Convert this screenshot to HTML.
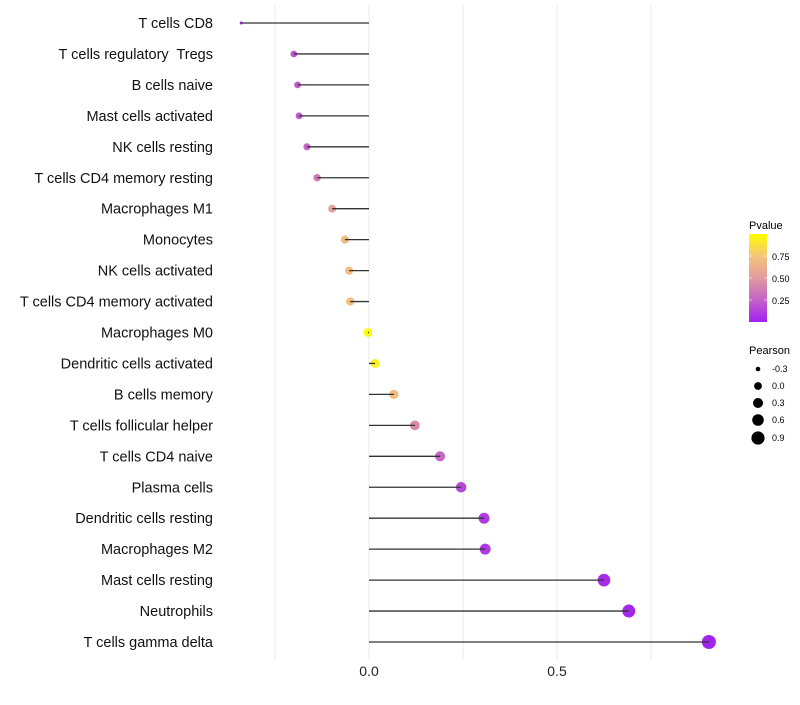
<!DOCTYPE html>
<html><head><meta charset="utf-8"><style>
body{margin:0;background:#fff;}
svg{font-family:"Liberation Sans",Arial,sans-serif;}
text{white-space:pre;}
</style></head><body>
<svg width="800" height="700" xmlns="http://www.w3.org/2000/svg">
<defs><linearGradient id="pg" x1="0" y1="1" x2="0" y2="0">
<stop offset="0" stop-color="#a020f0"/><stop offset="0.25" stop-color="#c462c8"/><stop offset="0.5" stop-color="#e29a9e"/><stop offset="0.75" stop-color="#f4c47a"/><stop offset="1" stop-color="#ffff00"/></linearGradient></defs>
<g id="grid"></g><g id="marks"></g><g id="labels"></g>
<g>
<text x="749" y="229" font-size="11">Pvalue</text>
<rect x="749" y="234" width="18" height="88" fill="url(#pg)"/>
<line x1="749" x2="752" y1="256" y2="256" stroke="#fff" opacity="0.6"/><line x1="764" x2="767" y1="256" y2="256" stroke="#fff" opacity="0.6"/>
<line x1="749" x2="752" y1="278" y2="278" stroke="#fff" opacity="0.6"/><line x1="764" x2="767" y1="278" y2="278" stroke="#fff" opacity="0.6"/>
<line x1="749" x2="752" y1="300" y2="300" stroke="#fff" opacity="0.6"/><line x1="764" x2="767" y1="300" y2="300" stroke="#fff" opacity="0.6"/>
<text x="772" y="260" font-size="9">0.75</text><text x="772" y="282" font-size="9">0.50</text><text x="772" y="304" font-size="9">0.25</text>
</g>
<g>
<text x="749" y="354" font-size="11">Pearson</text>
<circle cx="758" cy="369" r="2.3"/><text x="772" y="372" font-size="9">-0.3</text>
<circle cx="758" cy="386" r="3.9"/><text x="772" y="389" font-size="9">0.0</text>
<circle cx="758" cy="403" r="5"/><text x="772" y="406" font-size="9">0.3</text>
<circle cx="758" cy="420" r="5.8"/><text x="772" y="423" font-size="9">0.6</text>
<circle cx="758" cy="438" r="6.6"/><text x="772" y="441" font-size="9">0.9</text>
</g>
</svg>
<script>
const categories=["T cells CD8","T cells regulatory  Tregs","B cells naive","Mast cells activated","NK cells resting","T cells CD4 memory resting","Macrophages M1","Monocytes","NK cells activated","T cells CD4 memory activated","Macrophages M0","Dendritic cells activated","B cells memory","T cells follicular helper","T cells CD4 naive","Plasma cells","Dendritic cells resting","Macrophages M2","Mast cells resting","Neutrophils","T cells gamma delta"];
const pearson=[-0.34,-0.2,-0.19,-0.186,-0.165,-0.138,-0.098,-0.064,-0.053,-0.05,-0.003,0.016,0.066,0.122,0.189,0.245,0.306,0.309,0.625,0.691,0.904];
const pvalue=[0.02,0.2,0.22,0.22,0.27,0.36,0.55,0.7,0.72,0.72,0.99,0.95,0.7,0.42,0.27,0.15,0.1,0.1,0.05,0.03,0.01];
const xTicks=[0,0.5];
const xTickLabels=["0.0","0.5"];
const gridVals=[-0.25,0,0.25,0.5,0.75];
const NS="http://www.w3.org/2000/svg";
const x=v=>369+376*v;
const y=i=>23+i*30.95;
const stops=[[0,[160,32,240]],[0.25,[196,98,200]],[0.5,[226,154,158]],[0.75,[244,196,122]],[1,[255,255,0]]];
function col(p){for(let k=0;k<stops.length-1;k++){const a=stops[k],b=stops[k+1];if(p<=b[0]){const t=(p-a[0])/(b[0]-a[0]);return "rgb("+a[1].map((c,j)=>Math.round(c+(b[1][j]-c)*t)).join(",")+")";}}return "rgb(255,255,0)";}
const pmin=Math.min(...pearson),pmax=Math.max(...pearson);
const rad=v=>1.5+5.5*Math.sqrt(Math.max(0,(v-pmin)/(pmax-pmin)));
function mk(t,at,parent){const e=document.createElementNS(NS,t);for(const k in at)e.setAttribute(k,at[k]);document.getElementById(parent).appendChild(e);return e;}
gridVals.forEach(g=>{const l=mk("line",{x1:x(g),x2:x(g),y1:5,y2:660,stroke:"#ebebeb","stroke-width":1},"grid");

});
xTicks.forEach((t,i)=>{const e=mk("text",{x:x(t),y:676,"font-size":14,"text-anchor":"middle",fill:"#222"},"labels");e.textContent=xTickLabels[i];

});
categories.forEach((c,i)=>{
const t=mk("text",{x:213,y:y(i)+5,"font-size":14.5,"text-anchor":"end",fill:"#111"},"labels");t.textContent=c;


const p=mk("circle",{cx:x(pearson[i]),cy:y(i),r:rad(pearson[i]),fill:col(pvalue[i])},"marks");


const l=mk("line",{x1:x(0),x2:x(pearson[i]),y1:y(i),y2:y(i),stroke:"#333","stroke-width":1.3},"marks");


});
</script>
</body></html>
